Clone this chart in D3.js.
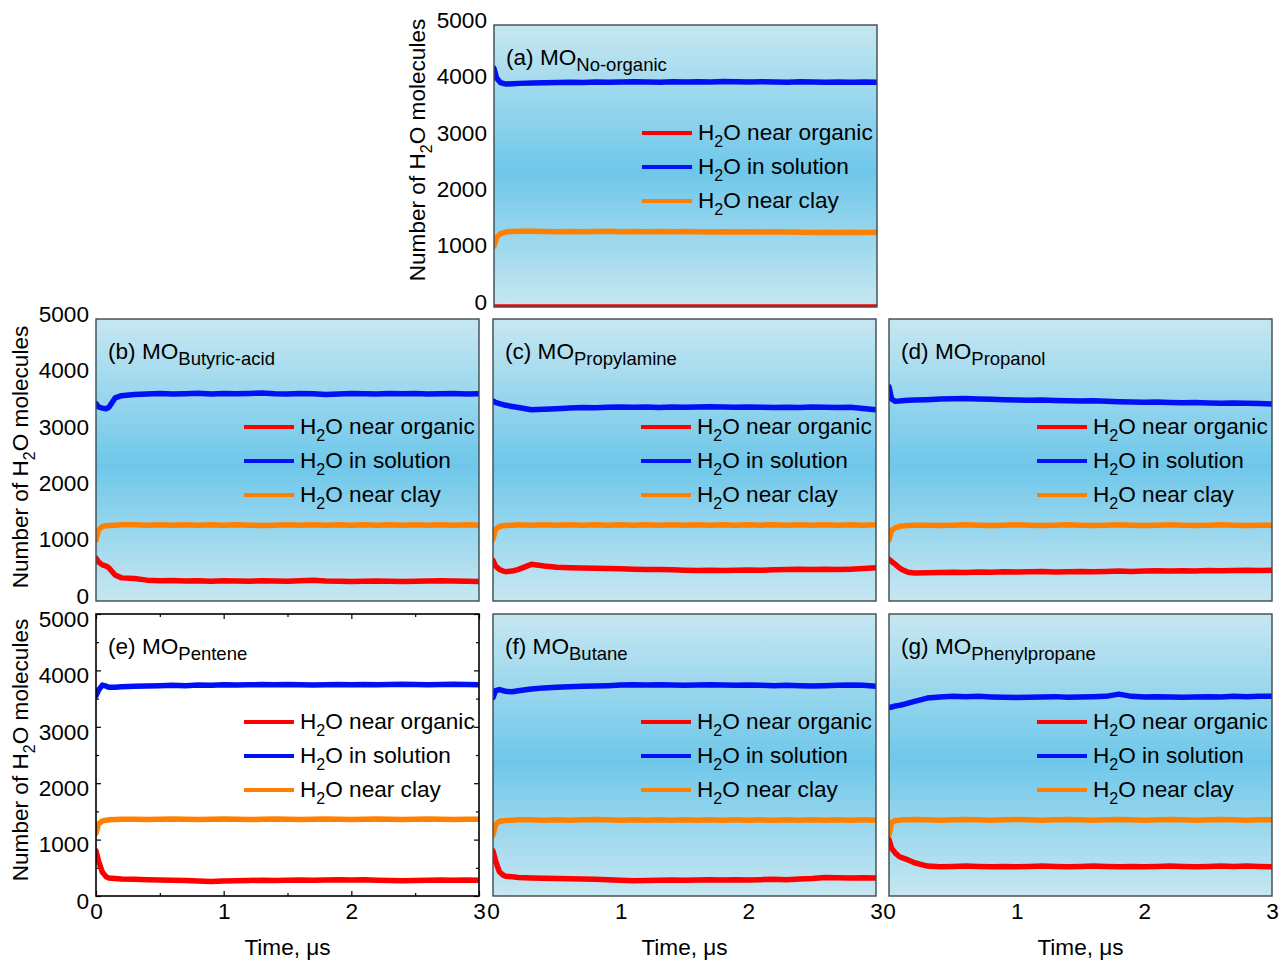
<!DOCTYPE html>
<html>
<head>
<meta charset="utf-8">
<script src="https://cdn.jsdelivr.net/npm/d3@7"></script>
<style>
  body { margin: 0; background: #fff; }
  text { font-family: "Liberation Sans", Arial, Helvetica, sans-serif; fill: #000; }
</style>
</head>
<body>
<svg id="chart" width="1280" height="960"></svg>
<script>
// ---- data: time (µs) and number of H2O molecules per region ----
const times = [0, 0.02, 0.05, 0.08, 0.1, 0.15, 0.2, 0.3, 0.4, 0.5, 0.6, 0.7, 0.8, 0.9, 1.0,
  1.1, 1.2, 1.3, 1.4, 1.5, 1.6, 1.7, 1.8, 1.9, 2.0, 2.1, 2.2, 2.3, 2.4, 2.5, 2.6, 2.7, 2.8, 2.9, 3.0];

// (a) No-organic
const organicA  = [0,0,0,0,0,0,0,0,0,0,0,0,0,0,0,0,0,0,0,0,0,0,0,0,0,0,0,0,0,0,0,0,0,0,0];
const solutionA = [4230,4060,3980,3960,3955,3960,3965,3970,3975,3980,3985,3980,3990,3985,3990,3995,3990,3985,3995,3990,3995,3990,4000,3995,3990,3995,3990,3985,3995,3990,3985,3990,3985,3990,3985];
const clayA     = [1080,1230,1300,1320,1335,1340,1345,1345,1340,1335,1340,1335,1340,1345,1335,1340,1335,1340,1335,1340,1335,1330,1335,1330,1335,1330,1335,1330,1325,1320,1325,1320,1325,1320,1325];

// (b) Butyric-acid
const organicB  = [760,690,640,620,590,460,410,400,370,360,365,355,360,350,360,355,350,360,355,350,360,370,355,350,345,350,355,350,345,350,355,360,355,350,345];
const solutionB = [3500,3440,3420,3410,3430,3600,3640,3660,3670,3680,3670,3675,3685,3670,3680,3675,3680,3690,3675,3670,3680,3675,3660,3670,3680,3675,3670,3680,3675,3680,3670,3675,3680,3670,3675];
const clayB     = [1080,1260,1320,1335,1340,1345,1350,1350,1345,1350,1345,1350,1345,1350,1345,1350,1345,1340,1345,1350,1345,1350,1345,1350,1345,1350,1345,1350,1345,1350,1345,1350,1345,1350,1345];

// (c) Propylamine
const organicC  = [720,620,560,530,520,530,560,650,620,600,590,585,580,575,570,565,560,560,555,545,540,545,540,545,550,545,555,560,565,560,565,560,565,575,590];
const solutionC = [3550,3520,3500,3480,3470,3450,3430,3390,3400,3410,3420,3430,3425,3435,3440,3435,3440,3430,3440,3435,3440,3445,3440,3435,3440,3435,3430,3435,3430,3440,3435,3430,3435,3415,3390];
const clayC     = [1100,1270,1320,1335,1340,1345,1350,1345,1350,1345,1350,1345,1350,1345,1350,1345,1350,1345,1350,1345,1350,1345,1350,1345,1350,1345,1350,1345,1350,1345,1350,1345,1350,1345,1350];

// (d) Propanol
const organicD  = [740,700,650,590,560,510,495,500,505,510,505,515,510,520,515,520,525,515,520,525,520,525,530,525,530,535,530,535,530,540,535,540,545,540,545];
const solutionD = [3800,3580,3540,3545,3550,3560,3565,3570,3580,3585,3590,3580,3575,3570,3565,3560,3565,3555,3550,3545,3550,3540,3535,3530,3525,3530,3520,3515,3520,3510,3505,3510,3505,3500,3495];
const clayD     = [1080,1250,1300,1320,1330,1340,1345,1345,1340,1345,1350,1345,1340,1345,1350,1345,1340,1345,1350,1345,1340,1345,1350,1345,1340,1345,1350,1345,1340,1345,1350,1345,1340,1345,1345];

// (e) Pentene
const organicE  = [800,620,420,340,320,310,300,295,290,285,280,275,265,255,265,270,275,280,275,280,285,280,285,290,285,290,280,275,270,275,280,285,280,285,280];
const solutionE = [3550,3650,3740,3720,3700,3700,3710,3720,3725,3730,3735,3730,3740,3735,3745,3740,3745,3750,3745,3750,3745,3740,3745,3750,3745,3750,3745,3750,3755,3750,3745,3750,3755,3750,3745];
const clayE     = [1110,1280,1330,1345,1350,1355,1360,1360,1355,1360,1365,1360,1355,1360,1365,1360,1355,1360,1365,1360,1355,1360,1365,1360,1355,1360,1365,1360,1355,1360,1365,1360,1355,1360,1360];

// (f) Butane
const organicF  = [800,620,430,370,350,340,330,320,315,310,305,300,295,290,280,270,275,280,285,280,285,290,285,290,285,290,295,290,300,310,330,325,320,325,320];
const solutionF = [3520,3640,3660,3640,3630,3620,3640,3670,3690,3700,3710,3720,3725,3730,3740,3745,3740,3745,3740,3735,3740,3745,3740,3735,3740,3735,3730,3735,3730,3725,3730,3735,3740,3735,3720];
const clayF     = [1080,1270,1320,1335,1340,1345,1350,1350,1345,1350,1345,1350,1355,1350,1345,1350,1345,1350,1345,1350,1345,1350,1345,1350,1345,1350,1345,1350,1345,1350,1345,1350,1345,1350,1345];

// (g) Phenylpropane
const organicG  = [1000,850,760,700,680,640,590,530,520,525,530,525,520,525,520,525,530,525,520,525,530,525,520,525,520,525,530,525,520,525,530,525,530,525,520];
const solutionG = [3340,3350,3370,3380,3390,3420,3450,3510,3530,3540,3535,3540,3530,3525,3520,3525,3530,3535,3525,3530,3535,3540,3580,3540,3530,3535,3530,3525,3530,3535,3530,3540,3535,3540,3540];
const clayG     = [1080,1300,1340,1345,1350,1350,1355,1350,1345,1350,1355,1350,1345,1350,1355,1350,1345,1350,1355,1350,1345,1350,1355,1350,1345,1350,1355,1350,1345,1350,1355,1350,1345,1350,1350];

const legendNames = ["near organic", "in solution", "near clay"];
const panelLetters = ["(a)", "(b)", "(c)", "(d)", "(e)", "(f)", "(g)"];
const panelSubs = ["No-organic", "Butyric-acid", "Propylamine", "Propanol", "Pentene", "Butane", "Phenylpropane"];
const panelSeries = [
  [organicA, solutionA, clayA],
  [organicB, solutionB, clayB],
  [organicC, solutionC, clayC],
  [organicD, solutionD, clayD],
  [organicE, solutionE, clayE],
  [organicF, solutionF, clayF],
  [organicG, solutionG, clayG]
];
const yTickValues = [0, 1000, 2000, 3000, 4000, 5000];
const xTickValues = [0, 1, 2, 3];

// ---- layout ----
const W = 383, H = 282;
const seriesColors = ["#ff0000", "#0010f5", "#ff8000"];
const frames = [
  { x: 494, y: 25,  yLabels: true,  yTitle: 425, labelDy: -5, titleCy: 150, xLabels: false, plain: false },
  { x: 96,  y: 319, yLabels: true,  yTitle: 28,  labelDy: -5, titleCy: 457, xLabels: false, plain: false },
  { x: 493, y: 319, yLabels: false, xLabels: false, plain: false },
  { x: 889, y: 319, yLabels: false, xLabels: false, plain: false },
  { x: 96,  y: 614, yLabels: true,  yTitle: 28,  labelDy: 5,  titleCy: 750, xLabels: true, plain: true },
  { x: 493, y: 614, yLabels: false, xLabels: true, plain: false },
  { x: 889, y: 614, yLabels: false, xLabels: true, plain: false }
];

const svg = d3.select("#chart");
const defs = svg.append("defs");
const grad = defs.append("linearGradient").attr("id", "panelBg")
  .attr("x1", 0).attr("y1", 0).attr("x2", 0).attr("y2", 1);
grad.append("stop").attr("offset", "0%").attr("stop-color", "#c7e7f1");
grad.append("stop").attr("offset", "52%").attr("stop-color", "#6ec7ea");
grad.append("stop").attr("offset", "100%").attr("stop-color", "#c7e7f1");

const FS = 22.6;
const fmt = d3.format("d");

panelSeries.forEach((series, p) => {
  const f = frames[p];
  const g = svg.append("g").attr("transform", `translate(${f.x},${f.y})`);
  const x = d3.scaleLinear().domain([0, 3]).range([0, W]);
  const y = d3.scaleLinear().domain([0, 5000]).range([H, 0]);

  g.append("rect").attr("width", W).attr("height", H)
    .attr("fill", f.plain ? "#ffffff" : "url(#panelBg)");

  // inward ticks on all four sides of the plain panel
  if (f.plain) {
    const tickSets = [
      { ax: d3.axisLeft(y).tickValues(d3.range(0, 5001, 1000)).tickSize(-5), t: "translate(0,0)" },
      { ax: d3.axisLeft(y).tickValues(d3.range(500, 5000, 1000)).tickSize(-3), t: "translate(0,0)" },
      { ax: d3.axisRight(y).tickValues(d3.range(0, 5001, 1000)).tickSize(-5), t: `translate(${W},0)` },
      { ax: d3.axisRight(y).tickValues(d3.range(500, 5000, 1000)).tickSize(-3), t: `translate(${W},0)` },
      { ax: d3.axisBottom(x).tickValues([0, 1, 2, 3]).tickSize(-5), t: `translate(0,${H})` },
      { ax: d3.axisBottom(x).tickValues([0.5, 1.5, 2.5]).tickSize(-3), t: `translate(0,${H})` },
      { ax: d3.axisTop(x).tickValues([0, 1, 2, 3]).tickSize(-5), t: "translate(0,0)" },
      { ax: d3.axisTop(x).tickValues([0.5, 1.5, 2.5]).tickSize(-3), t: "translate(0,0)" }
    ];
    tickSets.forEach(s => {
      const a = g.append("g").attr("transform", s.t).call(s.ax.tickFormat(""));
      a.select(".domain").remove();
      a.selectAll("line").attr("stroke", "#000").attr("stroke-width", 1.2);
    });
  }

  // clipped data traces
  const clipId = "clip" + p;
  defs.append("clipPath").attr("id", clipId)
    .append("rect").attr("width", W).attr("height", H);
  const line = d3.line().x((d, i) => x(times[i])).y(d => y(d));
  const plot = g.append("g").attr("clip-path", `url(#${clipId})`);
  // draw clay, solution, then organic on top
  [2, 1, 0].forEach(k => {
    plot.append("path").datum(series[k])
      .attr("d", line)
      .attr("fill", "none")
      .attr("stroke", seriesColors[k])
      .attr("stroke-width", 5.5)
      .attr("stroke-linejoin", "round")
      .attr("stroke-linecap", "round");
  });

  // frame
  g.append("rect").attr("width", W).attr("height", H)
    .attr("fill", "none")
    .attr("stroke", f.plain ? "#000" : "#3a4a50")
    .attr("stroke-width", f.plain ? 1.6 : 1.4);

  // panel title
  const title = g.append("text").attr("x", 12).attr("y", 40).attr("font-size", FS);
  title.append("tspan").text(panelLetters[p] + " MO");
  title.append("tspan").attr("dy", 6).attr("font-size", 18.5).text(panelSubs[p]);

  // legend
  legendNames.forEach((name, k) => {
    const ly = 108 + k * 34;
    g.append("line")
      .attr("x1", W - 235).attr("x2", W - 185)
      .attr("y1", ly).attr("y2", ly)
      .attr("stroke", seriesColors[k]).attr("stroke-width", 4);
    const t = g.append("text").attr("x", W - 179).attr("y", ly + 7).attr("font-size", FS);
    t.append("tspan").text("H");
    t.append("tspan").attr("dy", 6.5).attr("font-size", 16).text("2");
    t.append("tspan").attr("dy", -6.5).text("O " + name);
  });

  // y tick labels and axis title
  if (f.yLabels) {
    const ay = g.append("g").call(d3.axisLeft(y).tickValues(yTickValues).tickFormat(fmt).tickSize(0).tickPadding(7));
    ay.select(".domain").remove();
    ay.selectAll("text")
      .attr("font-size", FS)
      .attr("font-family", '"Liberation Sans", Arial, sans-serif')
      .attr("fill", "#000")
      .attr("transform", `translate(0,${f.labelDy})`);
    const yt = svg.append("text")
      .attr("transform", `translate(${f.yTitle},${f.titleCy}) rotate(-90)`)
      .attr("text-anchor", "middle")
      .attr("font-size", FS);
    yt.append("tspan").text("Number of H");
    yt.append("tspan").attr("dy", 6.5).attr("font-size", 16).text("2");
    yt.append("tspan").attr("dy", -6.5).text("O molecules");
  }

  // x tick labels and axis title
  if (f.xLabels) {
    const ax = g.append("g").attr("transform", `translate(0,${H})`)
      .call(d3.axisBottom(x).tickValues(xTickValues).tickFormat(fmt).tickSize(0).tickPadding(7));
    ax.select(".domain").remove();
    ax.selectAll("text")
      .attr("font-size", FS)
      .attr("font-family", '"Liberation Sans", Arial, sans-serif')
      .attr("fill", "#000");
    g.append("text")
      .attr("x", W / 2).attr("y", 341)
      .attr("text-anchor", "middle")
      .attr("font-size", FS)
      .text("Time, μs");
  }
});
</script>
</body>
</html>
